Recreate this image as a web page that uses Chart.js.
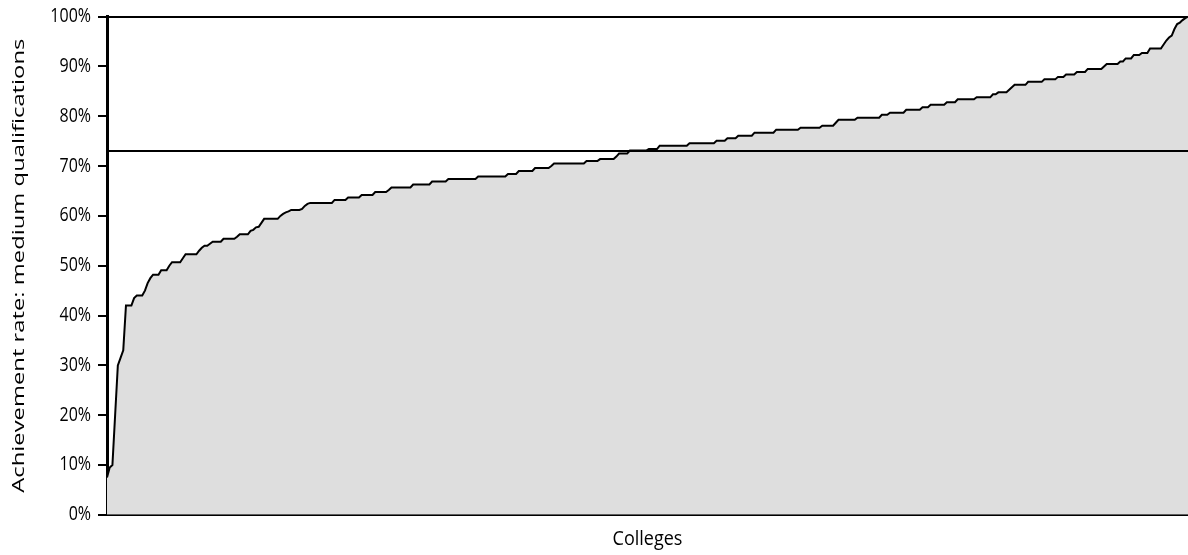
<!DOCTYPE html>
<html>
<head>
<meta charset="utf-8">
<title>Achievement rate: medium qualifications</title>
<script src="https://cdn.jsdelivr.net/npm/chart.js@4.4.1/dist/chart.umd.min.js"></script>
<style>
  html, body { margin: 0; padding: 0; background: #fff; }
  #wrap { position: relative; width: 1188px; height: 555px; }
</style>
</head>
<body>
<div id="wrap"><canvas id="chart"></canvas></div>
<script>
'use strict';

/* Colleges sorted by achievement rate (%). Each rate is shared by the
   number of colleges in the matching slot of collegesAtRate. */
var rates = [
  7.5, 9.5, 10, 20, 30, 31.5, 33, 42, 43.5, 44, 45, 46.5, 47.5, 48.2, 49.1, 50,
  50.7, 51.5, 52.3, 53, 53.6, 54, 54.4, 54.8, 55.4, 55.8, 56.3, 57, 57.2, 57.7,
  57.8, 58.6, 59.4, 60, 60.4, 60.7, 60.9, 61.2, 61.4, 62, 62.4, 62.6, 63.2, 63.7,
  64.2, 64.8, 65.2, 65.7, 66.3, 66.9, 67.4, 67.9, 68.4, 69, 69.6, 70, 70.5, 71,
  71.4, 71.9, 72.5, 73.1, 73.4, 74.1, 74.6, 75.1, 75.6, 76.1, 76.7, 77.3, 77.7,
  78.1, 78.7, 79.3, 79.7, 80.3, 80.7, 81.3, 81.8, 82.3, 82.8, 83.4, 83.8, 84.4,
  84.8, 85.3, 85.8, 86.3, 86.9, 87.4, 87.9, 88.4, 88.9, 89.5, 90, 90.5, 91, 91.6,
  92.3, 92.7, 93.6, 94.4, 95.2, 95.8, 96.2, 97.5, 98.5, 98.8, 99.3, 99.7, 100
];
var collegesAtRate = [
  1, 1, 1, 1, 1, 1, 1, 3, 1, 3, 1, 1, 1, 3, 3, 1,
  4, 1, 5, 1, 1, 2, 1, 4, 5, 1, 4, 1, 1, 1,
  1, 1, 6, 1, 1, 1, 1, 4, 1, 1, 1, 9, 5, 5,
  5, 5, 1, 8, 7, 6, 11, 11, 4, 6, 6, 1, 12, 5,
  6, 1, 4, 7, 4, 11, 10, 4, 4, 6, 8, 9, 8,
  5, 1, 7, 9, 3, 6, 6, 3, 6, 4, 7, 6, 2,
  4, 1, 1, 5, 6, 5, 3, 4, 4, 6, 1, 5, 2, 3,
  3, 3, 5, 1, 1, 1, 1, 1, 1, 1, 1, 1, 1
];
var averageRate = 73;          // horizontal line across the chart
var yTicks = [0, 10, 20, 30, 40, 50, 60, 70, 80, 90, 100];
var X_TITLE = 'Colleges';
var Y_TITLE = 'Achievement rate: medium qualifications';

var colleges = [];
var collegeRates = [];
rates.forEach(function (r, i) {
  for (var k = 0; k < collegesAtRate[i]; k++) {
    collegeRates.push(r);
    colleges.push('College ' + (colleges.length + 1));
  }
});

var FONT = '"Open Sans", "Noto Sans", sans-serif';
var CLEAR = 'rgba(0,0,0,0)';

/* the source artwork is stretched vertically, so its text is drawn here
   with a scale transform (Chart.js keeps transparent copies for layout) */
function stretchedText(ctx, text, x, y, opt) {
  ctx.save();
  ctx.translate(x, y);
  if (opt.rotate) ctx.rotate(opt.rotate);
  ctx.scale(opt.sx || 1, opt.sy || 1);
  ctx.font = opt.size + 'px ' + FONT;
  ctx.fillStyle = '#000';
  ctx.textAlign = opt.align || 'center';
  ctx.textBaseline = 'middle';
  ctx.fillText(text, 0, 0);
  ctx.restore();
}

var decorations = {
  id: 'decorations',
  afterDatasetsDraw: function (chart) {
    var a = chart.chartArea, ctx = chart.ctx;
    var ay = chart.scales.y.getPixelForValue(averageRate);
    ctx.save();
    ctx.strokeStyle = '#000';
    ctx.lineWidth = 2;
    ctx.beginPath(); ctx.moveTo(a.left, ay); ctx.lineTo(a.right, ay); ctx.stroke();
    ctx.restore();
  },
  afterDraw: function (chart) {
    var a = chart.chartArea, ys = chart.scales.y, ctx = chart.ctx;
    // tick marks outside the y axis
    ctx.save();
    ctx.strokeStyle = '#000';
    ctx.lineWidth = 2;
    yTicks.forEach(function (v) {
      var ty = Math.round(ys.getPixelForValue(v));
      ctx.beginPath(); ctx.moveTo(a.left - 9, ty); ctx.lineTo(a.left, ty); ctx.stroke();
    });
    ctx.restore();
    yTicks.forEach(function (v) {
      stretchedText(ctx, v + '%', a.left - 16, ys.getPixelForValue(v), { size: 16, sy: 1.2, align: 'right' });
    });
    stretchedText(ctx, Y_TITLE, ys.left + 19, (a.top + a.bottom) / 2, { size: 17, sx: 1.4, rotate: -Math.PI / 2 });
    stretchedText(ctx, X_TITLE, (a.left + a.right) / 2, a.bottom + 24, { size: 18, sy: 1.15 });
  }
};

new Chart(document.getElementById('chart').getContext('2d'), {
  type: 'line',
  data: {
    labels: colleges,
    datasets: [{
      label: 'Achievement rate',
      data: collegeRates,
      borderColor: '#000',
      borderWidth: 2,
      backgroundColor: '#dedede',
      fill: 'origin',
      pointRadius: 0,
      tension: 0,
    }],
  },
  options: {
    responsive: true, maintainAspectRatio: false, animation: false,
    layout: { padding: { left: 0, right: 0, top: 9, bottom: 0 } },
    plugins: { legend: { display: false }, tooltip: { enabled: false } },
    scales: {
      x: {
        type: 'category',
        offset: false,
        grid: { display: false, drawTicks: false },
        border: { display: true, color: '#000', width: 2 },
        ticks: { display: false },
        title: { display: true, text: X_TITLE, color: CLEAR, font: { family: FONT, size: 16 }, padding: { top: 14, bottom: 7 } },
      },
      y: {
        min: 0, max: 100,
        afterBuildTicks: function (s) { s.ticks = yTicks.map(function (v) { return { value: v }; }); },
        grid: {
          drawOnChartArea: true, tickLength: 9, tickColor: '#000',
          color: function (c) { return c.tick && c.tick.value === 100 ? '#000' : CLEAR; },
          lineWidth: 2,
        },
        border: { display: true, color: '#000', width: 3 },
        ticks: { color: CLEAR, padding: 7, font: { family: FONT, size: 16 }, callback: function (v) { return v + '%'; } },
        title: { display: true, text: Y_TITLE, color: CLEAR, font: { family: FONT, size: 16 }, padding: { top: 11, bottom: 18 } },
        afterFit: function (s) { s.width = 107; },
      },
    },
  },
  plugins: [decorations],
});
</script>
</body>
</html>
